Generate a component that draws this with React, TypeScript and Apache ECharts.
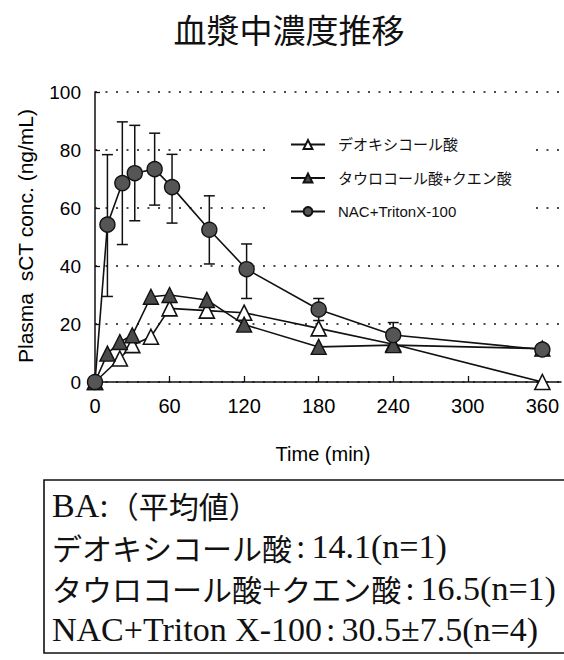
import React, { useEffect, useRef } from "react";
import * as echarts from "echarts";

const seriesNames = ["デオキシコール酸", "タウロコール酸+クエン酸", "NAC+TritonX-100"];

const deoxyTimes = [0, 20, 30, 45, 60, 90, 120, 180, 240, 360];
const deoxyValues = [0, 8.1, 12.7, 15.6, 25.4, 24.6, 23.9, 18.5, 13.0, 0];

const tauroTimes = [0, 10, 20, 30, 45, 60, 90, 120, 180, 240, 360];
const tauroValues = [0, 9.8, 13.8, 16.1, 29.4, 30.0, 28.3, 19.8, 12.1, 12.7, 11.5];

const nacTimes = [0, 10, 22, 32, 48, 62, 92, 122, 180, 240, 360];
const nacValues = [0, 54.3, 68.6, 72.0, 73.4, 67.2, 52.5, 38.9, 25.0, 16.2, 11.2];
const nacErrLow = [0, 29.5, 47.4, 55.6, 61.0, 54.8, 40.7, 28.8, 21.2, 12.0, 11.2];
const nacErrHigh = [0, 78.4, 89.7, 88.5, 85.8, 78.5, 64.2, 47.6, 28.8, 20.5, 11.2];

const xLabelValues = [0, 60, 120, 180, 240, 300, 360];
const xTickValues = [60, 120, 180, 240, 300];

const titleText = "血漿中濃度推移";
const yAxisName = "Plasma  sCT conc. (ng/mL)";
const xAxisName = "Time (min)";

const baLines = [
  "{lat|BA:}{cjk|（平均値）}",
  "{cjk|デオキシコール酸}{col|:}{lat|14.1(n=1)}",
  "{cjk|タウロコール酸}{lat|+}{cjk|クエン酸}{col|:}{lat|16.5(n=1)}",
  "{lat|NAC+Triton X-100}{col|:}{lat|30.5±7.5(n=4)}",
];

const SANS = "'Liberation Sans', 'Noto Sans CJK JP', sans-serif";
const CJK = "'Noto Sans CJK JP', sans-serif";
const SERIF = "'Liberation Serif', 'Noto Sans CJK JP', serif";

export default function App() {
  const ref = useRef<HTMLDivElement>(null);

  useEffect(() => {
    if (!ref.current) return;
    const chart = echarts.init(ref.current, undefined, { renderer: "svg" });
    const axisColor = "#111";

    const errStyle = { stroke: "#111", lineWidth: 1.5 };

    const option: any = {
      animation: false,
      backgroundColor: "#fff",
      grid: { left: 95, top: 92, width: 466, height: 290 },
      legend: {
        data: seriesNames,
        orient: "vertical",
        left: 265,
        top: 127,
        padding: [10, 22, 10, 25],
        backgroundColor: "#fff",
        itemWidth: 34,
        itemHeight: 11,
        itemGap: 18.5,
        textStyle: { fontSize: 15, fontFamily: SANS, color: "#111", padding: [0, 0, 0, 8] },
      },
      xAxis: {
        type: "value",
        min: 0,
        max: 375,
        interval: 60,
        axisLine: { show: true, lineStyle: { color: axisColor, width: 1.5 } },
        axisTick: {
          show: true,
          inside: true,
          length: 6,
          customValues: xTickValues,
          lineStyle: { color: axisColor, width: 1.3 },
        },
        axisLabel: {
          customValues: xLabelValues,
          formatter: (v: number) => (v > 360 ? "" : String(v)),
          fontSize: 20,
          margin: 14,
          color: "#000",
          fontFamily: SANS,
        },
        splitLine: { show: false },
      },
      yAxis: {
        type: "value",
        min: 0,
        max: 100,
        interval: 20,
        axisLine: { show: true, lineStyle: { color: axisColor, width: 1.5 } },
        axisTick: { show: true, inside: true, length: 5, lineStyle: { color: axisColor, width: 1.3 } },
        axisLabel: { fontSize: 19, margin: 14, color: "#000", fontFamily: SANS },
        splitLine: { show: true, lineStyle: { type: [2, 8.5], color: "#111", width: 1.7 } },
      },
      series: [
        {
          type: "custom",
          name: "err",
          silent: true,
          z: 1,
          data: nacTimes.map((t, i) => [t, nacErrLow[i], nacErrHigh[i]]),
          encode: { x: 0, y: [1, 2] },
          renderItem: (params: any, api: any) => {
            const x = api.value(0);
            const lo = api.value(1);
            const hi = api.value(2);
            if (hi - lo < 0.5) return { type: "group", children: [] };
            const top = api.coord([x, hi]);
            const bot = api.coord([x, lo]);
            const w = 5.5;
            return {
              type: "group",
              children: [
                { type: "line", shape: { x1: top[0], y1: top[1], x2: bot[0], y2: bot[1] }, style: errStyle },
                { type: "line", shape: { x1: top[0] - w, y1: top[1], x2: top[0] + w, y2: top[1] }, style: errStyle },
                { type: "line", shape: { x1: bot[0] - w, y1: bot[1], x2: bot[0] + w, y2: bot[1] }, style: errStyle },
              ],
            };
          },
        },
        {
          type: "line",
          name: seriesNames[0],
          z: 3,
          data: deoxyTimes.map((t, i) => [t, deoxyValues[i]]),
          symbol: "triangle",
          symbolSize: 15,
          lineStyle: { color: "#111", width: 1.6 },
          itemStyle: { color: "#fff", borderColor: "#111", borderWidth: 1.6 },
        },
        {
          type: "line",
          name: seriesNames[1],
          z: 4,
          data: tauroTimes.map((t, i) => [t, tauroValues[i]]),
          symbol: "triangle",
          symbolSize: 15,
          lineStyle: { color: "#111", width: 1.6 },
          itemStyle: { color: "#4a4a4a", borderColor: "#111", borderWidth: 1.4 },
        },
        {
          type: "line",
          name: seriesNames[2],
          z: 5,
          data: nacTimes.map((t, i) => [t, nacValues[i]]),
          symbol: "circle",
          symbolSize: 15,
          lineStyle: { color: "#111", width: 1.6 },
          itemStyle: { color: "#555", borderColor: "#111", borderWidth: 1.4 },
        },
      ],
      graphic: [
        {
          type: "text",
          x: 289,
          y: 29,
          style: { text: titleText, fontSize: 33, fontFamily: CJK, fill: "#111", align: "center", verticalAlign: "middle" },
        },
        {
          type: "text",
          x: 25,
          y: 236,
          rotation: Math.PI / 2,
          style: { text: yAxisName, fontSize: 21, fontFamily: SANS, fill: "#000", align: "center", verticalAlign: "middle" },
        },
        {
          type: "text",
          x: 323,
          y: 454,
          style: { text: xAxisName, fontSize: 20, fontFamily: SANS, fill: "#000", align: "center", verticalAlign: "middle" },
        },
        {
          type: "rect",
          shape: { x: 44, y: 480, width: 540, height: 173 },
          style: { fill: "none", stroke: "#111", lineWidth: 1.6 },
        },
        ...baLines.map((t, i) => ({
          type: "text",
          x: 52,
          y: 505 + i * 41.5,
          style: {
            text: t,
            fill: "#111",
            align: "left",
            verticalAlign: "middle",
            rich: {
              lat: { fontFamily: SERIF, fontSize: 34, fill: "#111" },
              col: { fontFamily: SERIF, fontSize: 34, fill: "#111", padding: [0, 6, 0, 4] },
              cjk: { fontFamily: CJK, fontSize: 30, fill: "#111" },
            },
          },
        })),
      ],
    };

    chart.setOption(option);
    return () => chart.dispose();
  }, []);

  return (
    <div
      ref={ref}
      style={{ position: "fixed", left: 0, top: 0, width: 564, height: 660, background: "#fff" }}
    />
  );
}
